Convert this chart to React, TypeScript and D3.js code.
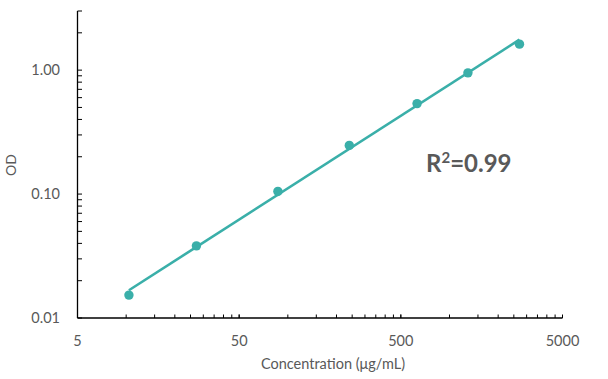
import React from "react";
import * as d3 from "d3";

const concentrations = [10.4, 27.2, 86.8, 240, 630, 1300, 2710];
const odValues = [0.0153, 0.0382, 0.105, 0.247, 0.537, 0.951, 1.62];
const xTickLabels = ["5", "50", "500", "5000"];
const xTickValues = [5, 50, 500, 5000];
const yTickLabels = ["0.01", "0.10", "1.00"];
const yTickValues = [0.01, 0.1, 1];
const rSquaredLabel = "0.99";

const W = 608;
const H = 379;
const TEAL = "#3AAFA9";
const GRAY = "#595959";
const FONT = "Lato, 'Open Sans', sans-serif";

export default function App() {
  const x = d3.scaleLog().domain([5, 5000]).range([77.5, 562.5]);
  const y = d3.scaleLog().domain([0.01, 3]).range([318, 11]);

  // minor ticks
  const xMinor: number[] = [];
  [5, 50, 500].forEach((d) => {
    for (let k = 1; k <= 10; k++) xMinor.push(d * k);
  });
  const yMinor: number[] = [];
  [0.01, 0.1, 1].forEach((d) => {
    for (let k = 1; k <= 9; k++) {
      const v = d * k;
      if (v <= 3.0001) yMinor.push(v);
    }
  });

  // power-law fit (linear regression in log-log space)
  const lx = concentrations.map((v) => Math.log10(v));
  const ly = odValues.map((v) => Math.log10(v));
  const n = lx.length;
  const mx = d3.mean(lx)!;
  const my = d3.mean(ly)!;
  let sxy = 0, sxx = 0;
  for (let i = 0; i < n; i++) {
    sxy += (lx[i] - mx) * (ly[i] - my);
    sxx += (lx[i] - mx) ** 2;
  }
  const b = sxy / sxx;
  const a = my - b * mx;
  const xMin = d3.min(concentrations)!;
  const xMax = d3.max(concentrations)!;
  const fitPts: [number, number][] = [xMin, xMax].map((v) => [v, Math.pow(10, a + b * Math.log10(v))]);
  const line = d3
    .line<[number, number]>()
    .x((d) => x(d[0]))
    .y((d) => y(d[1]));

  const x0 = x(5);
  const y0 = y(0.01);

  return (
    <svg width={W} height={H} style={{ position: "absolute", left: 0, top: 0, background: "#fff" }}>
      {/* axes */}
      <line x1={x0} x2={x0} y1={y(3)} y2={y0} stroke="#000" strokeWidth={1.3} />
      <line x1={x0} x2={x(5000)} y1={y0} y2={y0} stroke="#000" strokeWidth={1.3} />
      {yMinor.map((v, i) => (
        <line key={"yt" + i} x1={x0} x2={x0 + 4.5} y1={y(v)} y2={y(v)} stroke="#000" strokeWidth={1} />
      ))}
      {xMinor.map((v, i) => (
        <line key={"xt" + i} x1={x(v)} x2={x(v)} y1={y0} y2={y0 - 3.5} stroke="#000" strokeWidth={1} />
      ))}
      {yTickValues.map((v, i) => (
        <text key={"yl" + i} x={60} y={y(v)} dy="0.35em" textAnchor="end" fontFamily={FONT} fontSize={14.5} fill={GRAY}>
          {yTickLabels[i]}
        </text>
      ))}
      {xTickValues.map((v, i) => (
        <text key={"xl" + i} x={x(v)} y={345.5} textAnchor="middle" fontFamily={FONT} fontSize={14.5} fill={GRAY}>
          {xTickLabels[i]}
        </text>
      ))}
      <text x={333} y={368.5} textAnchor="middle" fontFamily={FONT} fontSize={14.5} fill={GRAY}>
        Concentration (μg/mL)
      </text>
      <text
        transform={`translate(11,165) rotate(-90)`}
        textAnchor="middle"
        dy="0.35em"
        fontFamily={FONT}
        fontSize={14}
        fill={GRAY}
      >
        OD
      </text>
      {/* fit line */}
      <path d={line(fitPts) || ""} fill="none" stroke={TEAL} strokeWidth={2.6} />
      {concentrations.map((c, i) => (
        <circle key={"p" + i} cx={x(c)} cy={y(odValues[i])} r={4.7} fill={TEAL} />
      ))}
      <text x={426} y={172} fontFamily={FONT} fontSize={24} fontWeight="bold" fill={GRAY}>
        R<tspan fontSize={15} dy={-9}>2</tspan>
        <tspan dy={9}>={rSquaredLabel}</tspan>
      </text>
    </svg>
  );
}
